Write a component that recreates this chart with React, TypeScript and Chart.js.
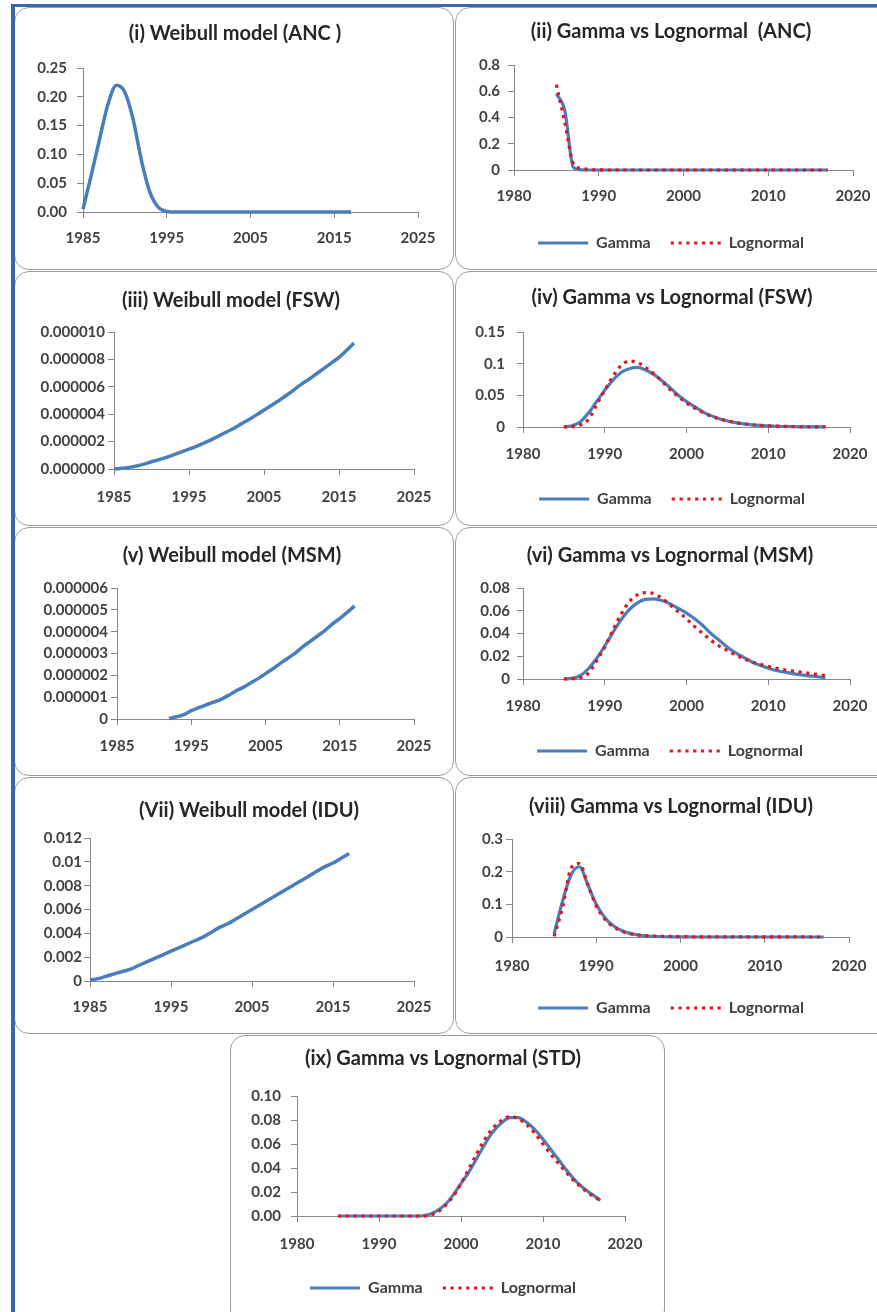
import React, { useEffect, useRef } from "react";
import { Chart, registerables, LinearScale } from "chart.js";

Chart.register(...registerables);
// let tick labels overflow their axis box (the box width is used only for layout)
(LinearScale.prototype as any)._computeLabelArea = function () {
  return undefined;
};

// ---------------- DATA ----------------
const years = [
  1985, 1986, 1987, 1988, 1989, 1990, 1991, 1992, 1993, 1994, 1995, 1996, 1997, 1998, 1999, 2000, 2001,
  2002, 2003, 2004, 2005, 2006, 2007, 2008, 2009, 2010, 2011, 2012, 2013, 2014, 2015, 2016, 2017,
];

const weibullANC = [
  0.005, 0.065, 0.128, 0.188, 0.22, 0.208, 0.16, 0.088, 0.034, 0.008, 0.001, 0, 0, 0, 0, 0, 0, 0, 0, 0, 0,
  0, 0, 0, 0, 0, 0, 0, 0, 0, 0, 0, 0,
];
const gammaANC = [
  0.58, 0.45, 0.02, 0.001, 0, 0, 0, 0, 0, 0, 0, 0, 0, 0, 0, 0, 0, 0, 0, 0, 0, 0, 0, 0, 0, 0, 0, 0, 0, 0, 0, 0, 0,
];
const lognormalANC = [
  0.65, 0.36, 0.05, 0.012, 0.003, 0.001, 0, 0, 0, 0, 0, 0, 0, 0, 0, 0, 0, 0, 0, 0, 0, 0, 0, 0, 0, 0, 0, 0, 0, 0,
  0, 0, 0,
];

const weibullFSW = [
  0, 0.05e-6, 0.12e-6, 0.22e-6, 0.36e-6, 0.53e-6, 0.68e-6, 0.85e-6, 1.05e-6, 1.25e-6, 1.45e-6, 1.65e-6,
  1.9e-6, 2.15e-6, 2.42e-6, 2.7e-6, 2.98e-6, 3.3e-6, 3.62e-6, 3.95e-6, 4.3e-6, 4.65e-6, 5.0e-6, 5.38e-6,
  5.78e-6, 6.2e-6, 6.55e-6, 6.95e-6, 7.35e-6, 7.75e-6, 8.15e-6, 8.65e-6, 9.2e-6,
];
const gammaFSW = [
  0, 0.002, 0.008, 0.022, 0.04, 0.058, 0.074, 0.086, 0.092, 0.094, 0.09, 0.083, 0.073, 0.062, 0.05, 0.04,
  0.032, 0.024, 0.018, 0.013, 0.0095, 0.007, 0.005, 0.0035, 0.0025, 0.0018, 0.0012, 0.0008, 0.0005, 0.0003,
  0.0002, 0.0001, 0.0001,
];
const lognormalFSW = [
  0, 0.0005, 0.003, 0.012, 0.035, 0.058, 0.08, 0.097, 0.104, 0.102, 0.094, 0.084, 0.072, 0.059, 0.048, 0.038,
  0.03, 0.023, 0.017, 0.013, 0.0095, 0.007, 0.005, 0.0037, 0.0027, 0.002, 0.0015, 0.001, 0.0008, 0.0006,
  0.0004, 0.0003, 0.0002,
];

const weibullMSM = [
  null, null, null, null, null, null, null, 0.02e-6, 0.1e-6, 0.2e-6, 0.38e-6, 0.52e-6, 0.65e-6, 0.77e-6,
  0.9e-6, 1.08e-6, 1.28e-6, 1.45e-6, 1.65e-6, 1.85e-6, 2.08e-6, 2.3e-6, 2.55e-6, 2.78e-6, 3.02e-6, 3.3e-6,
  3.55e-6, 3.8e-6, 4.05e-6, 4.35e-6, 4.6e-6, 4.88e-6, 5.18e-6,
];
const gammaMSM = [
  0, 0.0005, 0.003, 0.009, 0.018, 0.029, 0.041, 0.052, 0.061, 0.067, 0.07, 0.0705, 0.069, 0.066, 0.062,
  0.058, 0.053, 0.047, 0.04, 0.034, 0.028, 0.023, 0.019, 0.015, 0.012, 0.0095, 0.0075, 0.006, 0.0047,
  0.0037, 0.0028, 0.002, 0.001,
];
const lognormalMSM = [
  0, 0.0003, 0.001, 0.005, 0.016, 0.028, 0.043, 0.057, 0.068, 0.074, 0.076, 0.075, 0.071, 0.065, 0.059,
  0.053, 0.046, 0.04, 0.034, 0.029, 0.025, 0.021, 0.018, 0.015, 0.013, 0.011, 0.0095, 0.008, 0.007, 0.006,
  0.005, 0.004, 0.003,
];

const weibullIDU = [
  0.0001, 0.0002, 0.0004, 0.0006, 0.0008, 0.001, 0.0013, 0.0016, 0.0019, 0.0022, 0.0025, 0.0028, 0.0031,
  0.0034, 0.0037, 0.0041, 0.0045, 0.0048, 0.0052, 0.0056, 0.006, 0.0064, 0.0068, 0.0072, 0.0076, 0.008,
  0.0084, 0.0088, 0.0092, 0.0096, 0.0099, 0.0103, 0.0107,
];
const gammaIDU = [
  0.01, 0.11, 0.19, 0.215, 0.16, 0.1, 0.06, 0.035, 0.02, 0.011, 0.006, 0.003, 0.0015, 0.0008, 0.0004,
  0.0002, 0.0001, 0, 0, 0, 0, 0, 0, 0, 0, 0, 0, 0, 0, 0, 0, 0, 0,
];
const lognormalIDU = [
  0.002, 0.09, 0.21, 0.225, 0.16, 0.095, 0.055, 0.032, 0.018, 0.01, 0.006, 0.004, 0.003, 0.002, 0.0015,
  0.001, 0.0008, 0.0006, 0.0005, 0.0004, 0.0003, 0.0003, 0.0002, 0.0002, 0.0002, 0.0001, 0.0001, 0.0001,
  0.0001, 0.0001, 0.0001, 0, 0,
];

const gammaSTD = [
  0, 0, 0, 0, 0, 0, 0, 0, 0, 0, 0, 0.001, 0.004, 0.009, 0.017, 0.027, 0.037, 0.049, 0.061, 0.071, 0.078,
  0.082, 0.082, 0.078, 0.072, 0.064, 0.055, 0.046, 0.037, 0.029, 0.023, 0.018, 0.013,
];
const lognormalSTD = [
  0, 0, 0, 0, 0, 0, 0, 0, 0, 0, 0, 0.0005, 0.0025, 0.008, 0.016, 0.027, 0.04, 0.053, 0.065, 0.074, 0.08,
  0.083, 0.081, 0.076, 0.069, 0.06, 0.051, 0.043, 0.035, 0.028, 0.022, 0.017, 0.013,
];

// tick values and labels
const xTicksWeibull = [1985, 1995, 2005, 2015, 2025];
const xLabelsWeibull = ["1985", "1995", "2005", "2015", "2025"];
const xTicksGamma = [1980, 1990, 2000, 2010, 2020];
const xLabelsGamma = ["1980", "1990", "2000", "2010", "2020"];

const yTicksI = [0, 0.05, 0.1, 0.15, 0.2, 0.25];
const yLabelsI = ["0.00", "0.05", "0.10", "0.15", "0.20", "0.25"];
const yTicksII = [0, 0.2, 0.4, 0.6, 0.8];
const yLabelsII = ["0", "0.2", "0.4", "0.6", "0.8"];
const yTicksIII = [0, 2e-6, 4e-6, 6e-6, 8e-6, 10e-6];
const yLabelsIII = ["0.000000", "0.000002", "0.000004", "0.000006", "0.000008", "0.000010"];
const yTicksIV = [0, 0.05, 0.1, 0.15];
const yLabelsIV = ["0", "0.05", "0.1", "0.15"];
const yTicksV = [0, 1e-6, 2e-6, 3e-6, 4e-6, 5e-6, 6e-6];
const yLabelsV = ["0", "0.000001", "0.000002", "0.000003", "0.000004", "0.000005", "0.000006"];
const yTicksVI = [0, 0.02, 0.04, 0.06, 0.08];
const yLabelsVI = ["0", "0.02", "0.04", "0.06", "0.08"];
const yTicksVII = [0, 0.002, 0.004, 0.006, 0.008, 0.01, 0.012];
const yLabelsVII = ["0", "0.002", "0.004", "0.006", "0.008", "0.01", "0.012"];
const yTicksVIII = [0, 0.1, 0.2, 0.3];
const yLabelsVIII = ["0", "0.1", "0.2", "0.3"];
const yTicksIX = [0, 0.02, 0.04, 0.06, 0.08, 0.1];
const yLabelsIX = ["0.00", "0.02", "0.04", "0.06", "0.08", "0.10"];

// ---------------- STYLE / LAYOUT ----------------
const BLUE = "#4A7EBB";
const RED = "#E3161B";
const AXIS = "#868686";
const TEXT = "#404040";
const FONT = "Lato, 'Noto Sans', sans-serif";
const TITLE_SIZE = 20;
const TICK_SIZE = 15;
const LEGEND_SIZE = 16;
const LEGEND_PAD = 20;
const TICK_LEN = 6;

type PanelCfg = {
  title: string;
  box: [number, number, number, number];
  plot: [number, number, number, number];
  titleX: number;
  titleY: number;
  xLabelY: number;
  yLabelRight: number;
  legendY?: number;
  xTicks: number[];
  xLabels: string[];
  yTicks: number[];
  yLabels: string[];
  weibull?: (number | null)[];
  gamma?: number[];
  lognormal?: number[];
};

const LBOX = 14, RBOX = 455, COLW = 440;

const panels: PanelCfg[] = [
  {
    title: "(i) Weibull model (ANC )", box: [LBOX, 7, COLW, 263], plot: [83, 68, 418, 212],
    titleX: 235, titleY: 34, xLabelY: 238, yLabelRight: 67,
    xTicks: xTicksWeibull, xLabels: xLabelsWeibull, yTicks: yTicksI, yLabels: yLabelsI, weibull: weibullANC,
  },
  {
    title: "(ii) Gamma vs Lognormal  (ANC)", box: [RBOX, 7, COLW, 263], plot: [514, 65, 853, 170],
    titleX: 671, titleY: 32, xLabelY: 196, yLabelRight: 500, legendY: 243,
    xTicks: xTicksGamma, xLabels: xLabelsGamma, yTicks: yTicksII, yLabels: yLabelsII,
    gamma: gammaANC, lognormal: lognormalANC,
  },
  {
    title: "(iii) Weibull model (FSW)", box: [LBOX, 271, COLW, 255], plot: [114, 332, 414, 469],
    titleX: 231, titleY: 301, xLabelY: 497, yLabelRight: 105,
    xTicks: xTicksWeibull, xLabels: xLabelsWeibull, yTicks: yTicksIII, yLabels: yLabelsIII, weibull: weibullFSW,
  },
  {
    title: "(iv) Gamma vs Lognormal (FSW)", box: [RBOX, 271, COLW, 255], plot: [523, 332, 850, 427],
    titleX: 672, titleY: 298, xLabelY: 454, yLabelRight: 505, legendY: 499,
    xTicks: xTicksGamma, xLabels: xLabelsGamma, yTicks: yTicksIV, yLabels: yLabelsIV,
    gamma: gammaFSW, lognormal: lognormalFSW,
  },
  {
    title: "(v) Weibull model (MSM)", box: [LBOX, 527, COLW, 249], plot: [117, 588, 414, 719],
    titleX: 232, titleY: 556, xLabelY: 746, yLabelRight: 108,
    xTicks: xTicksWeibull, xLabels: xLabelsWeibull, yTicks: yTicksV, yLabels: yLabelsV, weibull: weibullMSM,
  },
  {
    title: "(vi) Gamma vs Lognormal (MSM)", box: [RBOX, 527, COLW, 249], plot: [523, 588, 850, 679],
    titleX: 670, titleY: 556, xLabelY: 706, yLabelRight: 510, legendY: 751,
    xTicks: xTicksGamma, xLabels: xLabelsGamma, yTicks: yTicksVI, yLabels: yLabelsVI,
    gamma: gammaMSM, lognormal: lognormalMSM,
  },
  {
    title: "(Vii) Weibull model (IDU)", box: [LBOX, 777, COLW, 257], plot: [90, 838, 414, 981],
    titleX: 249, titleY: 811, xLabelY: 1007, yLabelRight: 82,
    xTicks: xTicksWeibull, xLabels: xLabelsWeibull, yTicks: yTicksVII, yLabels: yLabelsVII, weibull: weibullIDU,
  },
  {
    title: "(viii) Gamma vs Lognormal (IDU)", box: [RBOX, 777, COLW, 257], plot: [512, 839, 849, 937],
    titleX: 671, titleY: 807, xLabelY: 966, yLabelRight: 503, legendY: 1008,
    xTicks: xTicksGamma, xLabels: xLabelsGamma, yTicks: yTicksVIII, yLabels: yLabelsVIII,
    gamma: gammaIDU, lognormal: lognormalIDU,
  },
  {
    title: "(ix) Gamma vs Lognormal (STD)", box: [230, 1035, 435, 290], plot: [297, 1096, 625, 1216],
    titleX: 443, titleY: 1059, xLabelY: 1244, yLabelRight: 281, legendY: 1288,
    xTicks: xTicksGamma, xLabels: xLabelsGamma, yTicks: yTicksIX, yLabels: yLabelsIX,
    gamma: gammaSTD, lognormal: lognormalSTD,
  },
];

const toPoints = (arr: (number | null)[]) => years.map((x, i) => ({ x, y: arr[i] }));

function legendLabels(chart: any) {
  const items = (Chart.defaults as any).plugins.legend.labels.generateLabels(chart);
  items.forEach((it: any) => {
    const ds = chart.data.datasets[it.datasetIndex];
    it.lineDash = ds.borderDash || [];
    it.lineWidth = ds.borderWidth;
    it.strokeStyle = ds.borderColor;
    it.fillStyle = ds.borderColor;
    it.pointStyle = "line";
  });
  return items;
}

function buildConfig(p: PanelCfg): any {
  const [bx, by, bw, bh] = p.box;
  const [pl, pt, pr, pb] = p.plot;
  const padR = bx + bw - pr;
  const padL = 2 * (p.titleX - bx) - (bw - padR);
  const yAxisW = pl - bx - padL;
  const titleLH = TITLE_SIZE * 1.2;
  const titlePadTop = p.titleY - by - titleLH / 2;
  const titlePadBottom = pt - by - titlePadTop - titleLH;
  const tickLH = TICK_SIZE * 1.2;
  const xPad = p.xLabelY - pb - TICK_LEN - tickLH / 2;
  const yPad = pl - p.yLabelRight - TICK_LEN;
  const hasLegend = p.legendY !== undefined;
  let padB: number, xAxisH: number;
  if (hasLegend) {
    const legendTop = (p.legendY as number) - LEGEND_PAD - LEGEND_SIZE / 2;
    const legendH = LEGEND_SIZE + LEGEND_PAD + 10;
    xAxisH = legendTop - pb;
    padB = by + bh - legendTop - legendH;
  } else {
    padB = 4;
    xAxisH = by + bh - padB - pb;
  }

  const datasets: any[] = [];
  if (p.weibull) {
    datasets.push({
      label: "Weibull", data: toPoints(p.weibull), borderColor: BLUE, backgroundColor: BLUE,
      borderWidth: 3.5, pointRadius: 0, cubicInterpolationMode: "monotone", clip: 8,
    });
  } else {
    datasets.push({
      label: "Gamma", data: toPoints(p.gamma as number[]), borderColor: BLUE, backgroundColor: BLUE,
      borderWidth: 3.2, pointRadius: 0, cubicInterpolationMode: "monotone", clip: 8, order: 1,
    });
    datasets.push({
      label: "Lognormal", data: toPoints(p.lognormal as number[]), borderColor: RED, backgroundColor: RED,
      borderWidth: 3.2, borderDash: [3.2, 4.6], pointRadius: 0, cubicInterpolationMode: "monotone", clip: 8,
      order: 0,
    });
  }

  const axisCommon = {
    border: { display: true, color: AXIS, width: 1 },
    grid: { display: true, drawOnChartArea: false, drawTicks: true, tickLength: TICK_LEN, color: AXIS, lineWidth: 1 },
  };

  return {
    type: "line",
    data: { datasets },
    options: {
      responsive: false,
      animation: false,
      devicePixelRatio: 1,
      layout: { padding: { left: padL, right: padR, top: 0, bottom: padB } },
      plugins: {
        title: {
          display: true, text: p.title, color: "#262626",
          font: { family: FONT, size: TITLE_SIZE, weight: "bold", lineHeight: 1.2 },
          padding: { top: titlePadTop, bottom: titlePadBottom },
        },
        legend: {
          display: hasLegend, position: "bottom",
          labels: {
            usePointStyle: true, pointStyle: "line", pointStyleWidth: 50, padding: LEGEND_PAD,
            color: TEXT, font: { family: FONT, size: LEGEND_SIZE, weight: "bold" },
            generateLabels: legendLabels,
            sort: (a: any, b: any) => a.datasetIndex - b.datasetIndex,
          },
        },
        tooltip: { enabled: false },
      },
      scales: {
        x: {
          type: "linear", min: p.xTicks[0], max: p.xTicks[p.xTicks.length - 1],
          ...axisCommon,
          afterBuildTicks: (s: any) => { s.ticks = p.xTicks.map((v) => ({ value: v })); },
          afterFit: (s: any) => { s.height = xAxisH; },
          ticks: {
            autoSkip: false, maxRotation: 0, padding: xPad, color: TEXT,
            font: { family: FONT, size: TICK_SIZE, weight: "bold", lineHeight: 1.2 },
            callback: (_v: any, i: number) => p.xLabels[i],
          },
        },
        y: {
          type: "linear", min: p.yTicks[0], max: p.yTicks[p.yTicks.length - 1],
          ...axisCommon,
          afterBuildTicks: (s: any) => { s.ticks = p.yTicks.map((v) => ({ value: v })); },
          afterFit: (s: any) => { s.width = yAxisW; },
          ticks: {
            autoSkip: false, padding: yPad, color: TEXT,
            font: { family: FONT, size: TICK_SIZE, weight: "bold", lineHeight: 1.2 },
            callback: (_v: any, i: number) => p.yLabels[i],
          },
        },
      },
    },
  };
}

function Panel({ p }: { p: PanelCfg }) {
  const ref = useRef<HTMLCanvasElement>(null);
  useEffect(() => {
    if (!ref.current) return;
    const chart = new Chart(ref.current, buildConfig(p));
    let alive = true;
    if ((document as any).fonts && (document as any).fonts.ready) {
      (document as any).fonts.ready.then(() => { if (alive) chart.update(); });
    }
    return () => { alive = false; chart.destroy(); };
  }, [p]);
  const [bx, by, bw, bh] = p.box;
  return (
    <>
      <div
        style={{
          position: "absolute", left: bx, top: by, width: bw, height: bh, boxSizing: "border-box",
          border: "1.5px solid #9c9c9c", borderRadius: 15, background: "#fff",
        }}
      />
      <canvas
        ref={ref}
        width={bw}
        height={bh}
        style={{ position: "absolute", left: bx, top: by, width: bw, height: bh }}
      />
    </>
  );
}

export default function App() {
  return (
    <div
      style={{
        position: "absolute", left: 0, top: 0, width: 877, height: 1312, overflow: "hidden", background: "#fff",
      }}
    >
      {panels.map((p, i) => (
        <Panel key={i} p={p} />
      ))}
      <div style={{ position: "absolute", left: 11, top: 4, width: 4, height: 1312, background: "#3D68A8" }} />
      <div style={{ position: "absolute", left: 11, top: 4, width: 877, height: 3, background: "#3D68A8" }} />
    </div>
  );
}
